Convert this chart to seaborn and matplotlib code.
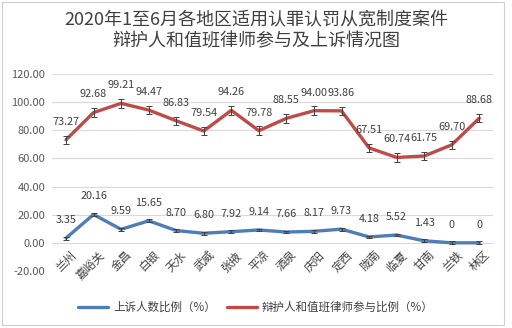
import matplotlib
matplotlib.use("Agg")
import matplotlib.pyplot as plt
import seaborn as sns
import pandas as pd
from matplotlib.patches import Rectangle
from matplotlib.lines import Line2D

regions = ["兰州", "嘉峪关", "金昌", "白银", "天水", "武威", "张掖", "平凉",
           "酒泉", "庆阳", "定西", "陇南", "临夏", "甘南", "兰铁", "林区"]
appeal = [3.35, 20.16, 9.59, 15.65, 8.70, 6.80, 7.92, 9.14,
          7.66, 8.17, 9.73, 4.18, 5.52, 1.43, 0, 0]
appeal_labels = ["3.35", "20.16", "9.59", "15.65", "8.70", "6.80", "7.92", "9.14",
                 "7.66", "8.17", "9.73", "4.18", "5.52", "1.43", "0", "0"]
lawyer = [73.27, 92.68, 99.21, 94.47, 86.83, 79.54, 94.26, 79.78,
          88.55, 94.00, 93.86, 67.51, 60.74, 61.75, 69.70, 88.68]
appeal_err = 1.0
lawyer_err = 3.0
yticks = [-20, 0, 20, 40, 60, 80, 100, 120]
title = "2020年1至6月各地区适用认罪认罚从宽制度案件\n辩护人和值班律师参与及上诉情况图"
legend_names = ["上诉人数比例（%）", "辩护人和值班律师参与比例（%）"]

sns.set_theme(style="white")
plt.rcParams['font.family'] = ['Noto Sans CJK SC', 'DejaVu Sans']

blue = "#4F7DB8"
red = "#BE4B48"
txt = "#404040"

df = pd.DataFrame({"idx": range(len(regions)), "appeal": appeal, "lawyer": lawyer})

fig = plt.figure(figsize=(5.12, 3.28), dpi=100)
ax = fig.add_axes([0.102, 0.174, 0.861, 0.600])

sns.lineplot(data=df, x="idx", y="appeal", ax=ax, color=blue, linewidth=2.4, zorder=3)
sns.lineplot(data=df, x="idx", y="lawyer", ax=ax, color=red, linewidth=2.4, zorder=3)
ax.errorbar(df["idx"], df["appeal"], yerr=appeal_err, fmt="none", ecolor="#404040",
            elinewidth=0.7, capsize=2, capthick=0.7, zorder=4)
ax.errorbar(df["idx"], df["lawyer"], yerr=lawyer_err, fmt="none", ecolor="#404040",
            elinewidth=0.7, capsize=2, capthick=0.7, zorder=4)

for i, (v, lab) in enumerate(zip(appeal, appeal_labels)):
    ax.annotate(lab, (i, v), xytext=(0, 13), textcoords="offset points",
                ha="center", va="center", fontsize=7.8, color=txt)
for i, v in enumerate(lawyer):
    ax.annotate(f"{v:.2f}", (i, v), xytext=(0, 13), textcoords="offset points",
                ha="center", va="center", fontsize=7.8, color=txt)

for i, r in enumerate(regions):
    ax.text(i + 0.15, -4, r, rotation=45, rotation_mode="anchor",
            ha="right", va="top", fontsize=8.3, color=txt)

ax.set_xlim(-0.5, len(regions) - 0.5)
ax.set_ylim(-20, 120)
ax.set_yticks(yticks)
ax.set_yticklabels([f"{t:.2f}" for t in yticks], fontsize=8, color="#595959")
ax.set_xticks([])
ax.set_xlabel("")
ax.set_ylabel("")
ax.grid(axis="y", color="#D9D9D9", linewidth=0.8)
ax.set_axisbelow(True)
for s in ax.spines.values():
    s.set_visible(False)
ax.tick_params(axis="y", length=0, pad=5)

fig.text(0.5, 0.905, title, ha="center", va="center", fontsize=13, color=txt,
         linespacing=1.2)

handles = [Line2D([0], [0], color=blue, linewidth=2.4),
           Line2D([0], [0], color=red, linewidth=2.4)]
fig.legend(handles, legend_names, loc="center", bbox_to_anchor=(0.5, 0.062), ncol=2,
           frameon=False, fontsize=8.3, handlelength=2.6, columnspacing=1.0,
           handletextpad=0.4, labelcolor=txt)

fig.patches.append(Rectangle((0.004, 0.008), 0.98, 0.985, transform=fig.transFigure,
                             fill=False, edgecolor="#D0D0D0", linewidth=0.8))

fig.savefig("out.png", dpi=100)
